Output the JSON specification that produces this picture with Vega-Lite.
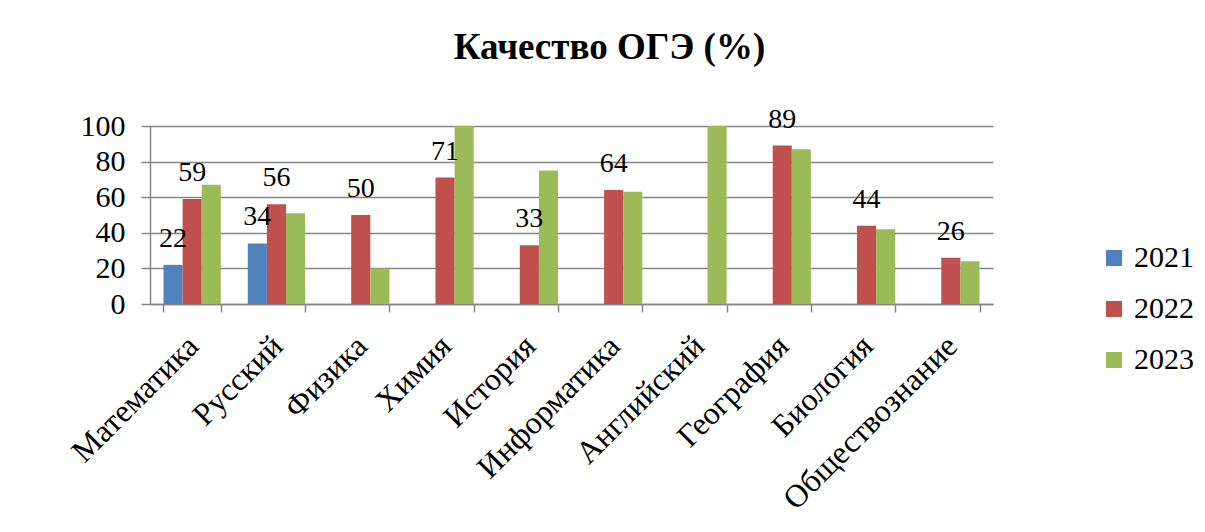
{
  "$schema": "https://vega.github.io/schema/vega-lite/v6.json",
  "width": 843,
  "height": 178,
  "autosize": {"type": "none"},
  "padding": {"left": 150, "top": 126, "right": 212, "bottom": 228},
  "background": "white",
  "config": {"font": "Liberation Serif", "view": {"stroke": null}},
  "title": {"text": "Качество ОГЭ (%)", "font": "Liberation Serif", "fontSize": 37, "fontWeight": "bold", "color": "black", "anchor": "middle", "dx": 38, "offset": 10, "baseline": "alphabetic"},
  "data": {"values": [
    {"subject": "Математика", "year": "2021", "value": 22},
    {"subject": "Математика", "year": "2022", "value": 59},
    {"subject": "Математика", "year": "2023", "value": 67},
    {"subject": "Русский", "year": "2021", "value": 34},
    {"subject": "Русский", "year": "2022", "value": 56},
    {"subject": "Русский", "year": "2023", "value": 51},
    {"subject": "Физика", "year": "2022", "value": 50},
    {"subject": "Физика", "year": "2023", "value": 20},
    {"subject": "Химия", "year": "2022", "value": 71},
    {"subject": "Химия", "year": "2023", "value": 100},
    {"subject": "История", "year": "2022", "value": 33},
    {"subject": "История", "year": "2023", "value": 75},
    {"subject": "Информатика", "year": "2022", "value": 64},
    {"subject": "Информатика", "year": "2023", "value": 63},
    {"subject": "Английский", "year": "2023", "value": 100},
    {"subject": "География", "year": "2022", "value": 89},
    {"subject": "География", "year": "2023", "value": 87},
    {"subject": "Биология", "year": "2022", "value": 44},
    {"subject": "Биология", "year": "2023", "value": 42},
    {"subject": "Обществознание", "year": "2022", "value": 26},
    {"subject": "Обществознание", "year": "2023", "value": 24}
  ]},
  "encoding": {
    "x": {"field": "subject", "type": "nominal", "sort": null,
      "scale": {"paddingInner": 0.32, "paddingOuter": 0.16},
      "axis": {"title": null, "labelAngle": -45, "labelFontSize": 32, "labelFont": "Liberation Serif", "labelColor": "black", "labelPadding": 18, "labelOffset": -10, "labelLimit": 500, "tickBand": "extent", "tickSize": 8, "tickColor": "#868686", "tickWidth": 1.5, "domainColor": "#868686", "domainWidth": 1.5, "labelOverlap": false}},
    "xOffset": {"field": "year", "type": "nominal", "scale": {"paddingInner": 0}},
    "y": {"field": "value", "type": "quantitative", "scale": {"domain": [0, 100]},
      "axis": {"title": null, "values": [0, 20, 40, 60, 80, 100], "labelFontSize": 30, "labelFont": "Liberation Serif", "labelColor": "black", "labelPadding": 16, "tickSize": 9, "tickColor": "#868686", "tickWidth": 1.5, "domainColor": "#868686", "domainWidth": 1.5, "gridColor": "#868686", "gridWidth": 1.5}}
  },
  "layer": [
    {"mark": {"type": "bar"},
      "encoding": {"color": {"field": "year", "type": "nominal",
        "scale": {"domain": ["2021", "2022", "2023"], "range": ["#4F81BD", "#C0504D", "#9BBB59"]},
        "legend": {"orient": "none", "legendX": 949, "legendY": 117, "title": null, "symbolType": "square", "symbolSize": 256, "symbolStrokeWidth": 0, "labelFontSize": 30, "labelFont": "Liberation Serif", "labelColor": "black", "rowPadding": 21, "labelOffset": 5}}}},
    {"transform": [{"filter": "datum.year != '2023'"}],
      "mark": {"type": "text", "dy": -18, "baseline": "alphabetic", "align": "center", "font": "Liberation Serif", "fontSize": 28, "color": "black"},
      "encoding": {"text": {"field": "value", "type": "quantitative"}}}
  ]
}
